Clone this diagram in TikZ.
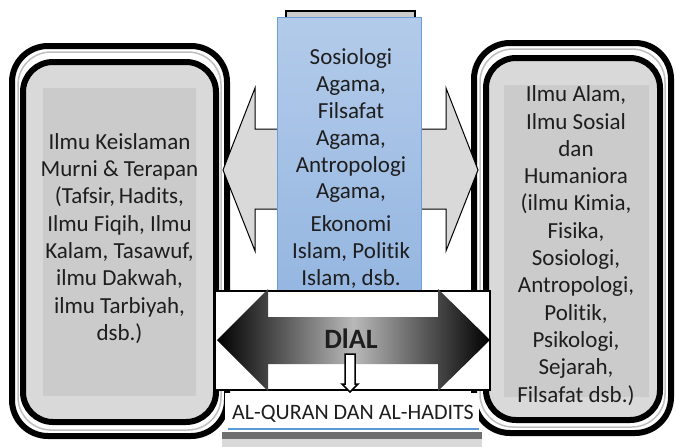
\documentclass[tikz,border=0pt]{standalone}
\usepackage{fontspec}
\setmainfont{Carlito}[Ligatures={NoCommon,NoRequired,NoContextual}]
\definecolor{boxfill}{HTML}{D9D9D9}
\definecolor{panel}{HTML}{CBCBCB}
\definecolor{rimgray}{HTML}{BFBFBF}
\definecolor{txt}{HTML}{1E1E1E}
\definecolor{blueTop}{HTML}{B3CBEA}
\definecolor{blueBot}{HTML}{93B5E0}
\definecolor{blueEdge}{HTML}{6D9EDB}
\definecolor{lineblue}{HTML}{5B9BD5}
\definecolor{shadowgray}{HTML}{6E6E6E}
\definecolor{stubblue}{HTML}{2F4A6A}
\begin{document}
\begin{tikzpicture}[x=1pt,y=-1pt,
  outerframe/.style={draw=black, line width=6pt, rounded corners=36pt, fill=white, inner sep=0pt},
  rimline/.style={draw=rimgray, line width=1.5pt, rounded corners=33pt, inner sep=0pt},
  innerframe/.style={draw=black, line width=6pt, rounded corners=30pt, fill=boxfill, inner sep=0pt},
  textpanel/.style={fill=panel, inner sep=0pt},
  bodytext/.style={font=\fontsize{23}{27.3}\selectfont, align=center, text=txt, inner sep=0pt},
  grayarrow/.style={fill=boxfill, draw=black, line width=1pt, line join=miter},
  darkarrow/.style={left color=black, right color=black, middle color=gray!55, draw=none},
  dialrect/.style={fill=white, draw=black, line width=1.5pt}
]
\useasboundingbox (0,0) rectangle (676,447);

% bottom shadow bands
\fill[shadowgray] (222,432) rectangle (482,439);
\fill[boxfill] (222,439) rectangle (482,447);

% left box
\node[outerframe, minimum width=215pt, minimum height=390pt] (lout) at (119.5,241) {};
\node[rimline, minimum width=203pt, minimum height=378pt] (lrim) at (119.5,241) {};
\node[innerframe, minimum width=193pt, minimum height=360pt] (lin) at (119.5,242) {};
\node[textpanel, minimum width=153pt, minimum height=308pt] (lpanel) at (119.5,242) {};
\node[bodytext] (ltext) at (119.5,238.5) {Ilmu Keislaman\\Murni \& Terapan\\(Tafsir,\,Hadits,\\Ilmu Fiqih, Ilmu\\Kalam, Tasawuf,\\ilmu Dakwah,\\ilmu Tarbiyah,\\dsb.)};

% right box
\node[outerframe, minimum width=197pt, minimum height=390pt] (rout) at (572.5,238) {};
\node[rimline, minimum width=185pt, minimum height=378pt] (rrim) at (572.5,238) {};
\node[innerframe, minimum width=174pt, minimum height=362pt] (rin) at (573,239) {};
\node[textpanel, minimum width=145pt, minimum height=312pt] (rpanel) at (576.5,241) {};
\node[bodytext] (rtext) at (576,245.5) {Ilmu Alam,\\Ilmu Sosial\\dan\\Humaniora\\(ilmu Kimia,\\Fisika,\\Sosiologi,\\Antropologi,\\Politik,\\Psikologi,\\Sejarah,\\Filsafat dsb.)};

% light double arrow behind the centre box
\coordinate (gl) at (223,170);
\coordinate (gr) at (478,170);
\draw[grayarrow] (gl) -- (255,88) -- (255,129) -- (446,129) -- (446,88) -- (gr)
  -- (446,251) -- (446,209) -- (255,209) -- (255,251) -- cycle;

% centre box
\node[fill=panel, draw=black, line width=2pt, minimum width=129pt, minimum height=30pt, inner sep=0pt] (ctop) at (350.5,26) {};
\node[top color=blueTop, bottom color=blueBot, draw=blueEdge, line width=0.8pt, minimum width=144pt, minimum height=295pt, inner sep=0pt] (cbox) at (349,164.5) {};
\node[bodytext, font=\fontsize{23}{26.8}\selectfont] (ctext) at (351,168.5) {Sosiologi\\Agama,\\Filsafat\\Agama,\\Antropologi\\Agama,\\[6pt]Ekonomi\\Islam, Politik\\Islam, dsb.};
\fill[stubblue] (343,312) rectangle (357,314.5);

% DIAL arrow
\node[dialrect, minimum width=275pt, minimum height=99pt, inner sep=0pt] (dialbox) at (352.5,340.5) {};
\coordinate (dl) at (217,340);
\coordinate (dr) at (490,340);
\path[darkarrow] (dl) -- (268,289) -- (268,317) -- (438,317) -- (438,289) -- (dr)
  -- (438,391) -- (438,364) -- (268,364) -- (268,391) -- cycle;
\node[font=\fontsize{28}{30}\selectfont\bfseries, text=txt, inner sep=0pt] (dial) at (351,339) {DlAL};

% small down arrow to the base box
\coordinate (dtop) at (350,354);
\coordinate (dtip) at (350,392);
\draw[fill=white, draw=black, line width=1.5pt, line join=miter]
  (345,354) -- (355,354) -- (355,384) -- (358,384) -- (dtip) -- (342,384) -- (345,384) -- cycle;

% base box
\node[fill=white, minimum width=254pt, minimum height=39pt, inner sep=0pt] (quranbox) at (352,412.5) {};
\draw[lineblue, line width=2pt] (228,428.5) -- (479,428.5);
\node[font=\fontsize{22}{26}\selectfont, text=txt, inner sep=0pt] (quran) at (353,414) {AL-QURAN DAN AL-HADITS};
\end{tikzpicture}
\end{document}
